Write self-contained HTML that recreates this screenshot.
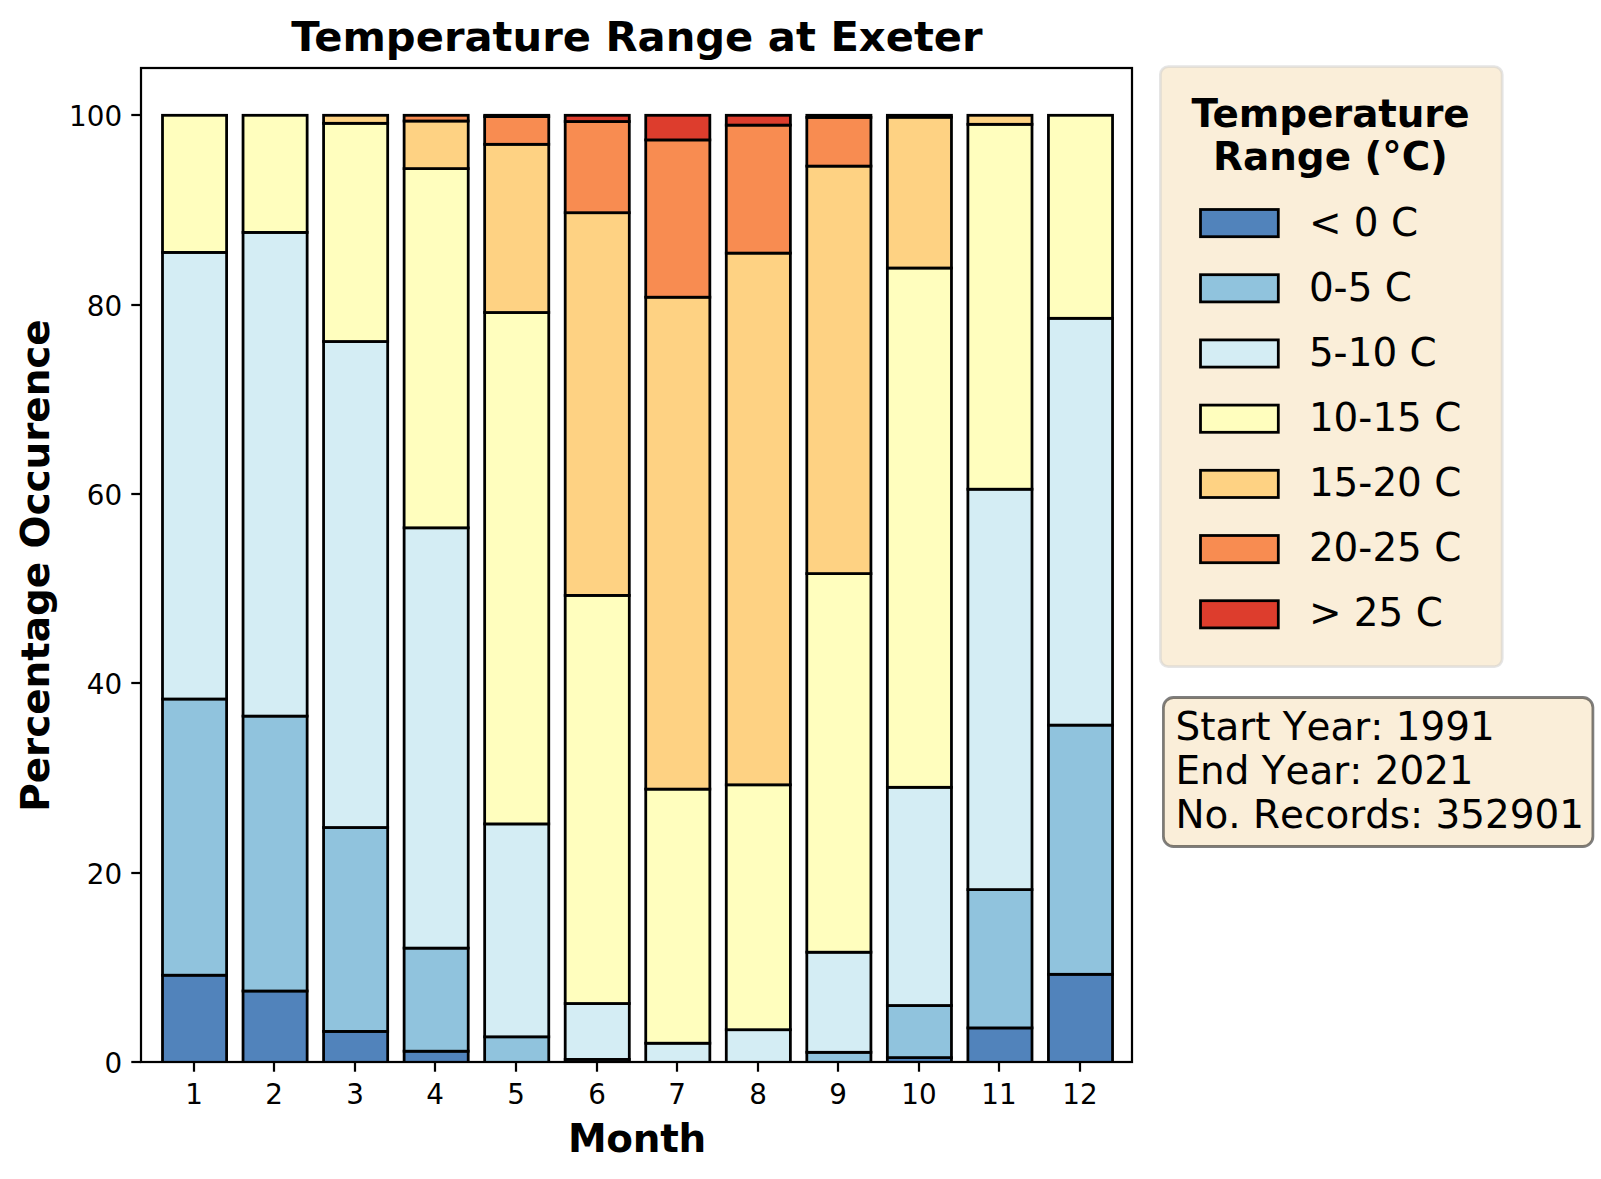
<!DOCTYPE html>
<html lang="en"><head><meta charset="utf-8"><title>Temperature Range at Exeter</title>
<style>html,body{margin:0;padding:0;background:#fff}svg{display:block}text{font-family:"DejaVu Sans","Liberation Sans",sans-serif;fill:#000}.b{font-weight:bold}</style></head><body>
<svg width="1601" height="1179" viewBox="0 0 1601 1179">
<rect width="1601" height="1179" fill="#fff"/>
<defs><clipPath id="axclip"><rect x="141.0" y="68.0" width="991.0" height="994.0"/></clipPath></defs>
<g clip-path="url(#axclip)" stroke="#000" stroke-width="2.78" stroke-linejoin="miter">
<rect x="162.50" y="975.20" width="64.10" height="87.20" fill="#5183bb"/>
<rect x="162.50" y="699.00" width="64.10" height="276.20" fill="#90c3dd"/>
<rect x="162.50" y="252.40" width="64.10" height="446.60" fill="#d4edf4"/>
<rect x="162.50" y="115.30" width="64.10" height="137.10" fill="#fffebe"/>
<rect x="243.04" y="991.00" width="64.10" height="71.40" fill="#5183bb"/>
<rect x="243.04" y="716.10" width="64.10" height="274.90" fill="#90c3dd"/>
<rect x="243.04" y="232.40" width="64.10" height="483.70" fill="#d4edf4"/>
<rect x="243.04" y="115.30" width="64.10" height="117.10" fill="#fffebe"/>
<rect x="323.58" y="1031.40" width="64.10" height="31.00" fill="#5183bb"/>
<rect x="323.58" y="827.50" width="64.10" height="203.90" fill="#90c3dd"/>
<rect x="323.58" y="341.50" width="64.10" height="486.00" fill="#d4edf4"/>
<rect x="323.58" y="123.30" width="64.10" height="218.20" fill="#fffebe"/>
<rect x="323.58" y="115.30" width="64.10" height="8.00" fill="#fed283"/>
<rect x="404.12" y="1051.20" width="64.10" height="11.20" fill="#5183bb"/>
<rect x="404.12" y="948.10" width="64.10" height="103.10" fill="#90c3dd"/>
<rect x="404.12" y="527.80" width="64.10" height="420.30" fill="#d4edf4"/>
<rect x="404.12" y="168.60" width="64.10" height="359.20" fill="#fffebe"/>
<rect x="404.12" y="121.00" width="64.10" height="47.60" fill="#fed283"/>
<rect x="404.12" y="115.30" width="64.10" height="5.70" fill="#f88c51"/>
<rect x="484.66" y="1036.80" width="64.10" height="25.60" fill="#90c3dd"/>
<rect x="484.66" y="823.90" width="64.10" height="212.90" fill="#d4edf4"/>
<rect x="484.66" y="312.50" width="64.10" height="511.40" fill="#fffebe"/>
<rect x="484.66" y="144.30" width="64.10" height="168.20" fill="#fed283"/>
<rect x="484.66" y="116.60" width="64.10" height="27.70" fill="#f88c51"/>
<rect x="484.66" y="115.30" width="64.10" height="1.30" fill="#dd3d2d"/>
<rect x="565.20" y="1059.40" width="64.10" height="3.00" fill="#90c3dd"/>
<rect x="565.20" y="1003.50" width="64.10" height="55.90" fill="#d4edf4"/>
<rect x="565.20" y="595.40" width="64.10" height="408.10" fill="#fffebe"/>
<rect x="565.20" y="212.70" width="64.10" height="382.70" fill="#fed283"/>
<rect x="565.20" y="121.50" width="64.10" height="91.20" fill="#f88c51"/>
<rect x="565.20" y="115.30" width="64.10" height="6.20" fill="#dd3d2d"/>
<rect x="645.74" y="1043.20" width="64.10" height="19.20" fill="#d4edf4"/>
<rect x="645.74" y="789.10" width="64.10" height="254.10" fill="#fffebe"/>
<rect x="645.74" y="297.20" width="64.10" height="491.90" fill="#fed283"/>
<rect x="645.74" y="139.90" width="64.10" height="157.30" fill="#f88c51"/>
<rect x="645.74" y="115.30" width="64.10" height="24.60" fill="#dd3d2d"/>
<rect x="726.28" y="1029.70" width="64.10" height="32.70" fill="#d4edf4"/>
<rect x="726.28" y="784.80" width="64.10" height="244.90" fill="#fffebe"/>
<rect x="726.28" y="253.10" width="64.10" height="531.70" fill="#fed283"/>
<rect x="726.28" y="125.10" width="64.10" height="128.00" fill="#f88c51"/>
<rect x="726.28" y="115.30" width="64.10" height="9.80" fill="#dd3d2d"/>
<rect x="806.82" y="1052.30" width="64.10" height="10.10" fill="#90c3dd"/>
<rect x="806.82" y="952.20" width="64.10" height="100.10" fill="#d4edf4"/>
<rect x="806.82" y="573.60" width="64.10" height="378.60" fill="#fffebe"/>
<rect x="806.82" y="166.10" width="64.10" height="407.50" fill="#fed283"/>
<rect x="806.82" y="117.40" width="64.10" height="48.70" fill="#f88c51"/>
<rect x="806.82" y="115.30" width="64.10" height="2.10" fill="#dd3d2d"/>
<rect x="887.36" y="1057.60" width="64.10" height="4.80" fill="#5183bb"/>
<rect x="887.36" y="1005.50" width="64.10" height="52.10" fill="#90c3dd"/>
<rect x="887.36" y="787.30" width="64.10" height="218.20" fill="#d4edf4"/>
<rect x="887.36" y="268.00" width="64.10" height="519.30" fill="#fffebe"/>
<rect x="887.36" y="117.20" width="64.10" height="150.80" fill="#fed283"/>
<rect x="887.36" y="115.30" width="64.10" height="1.90" fill="#f88c51"/>
<rect x="967.90" y="1027.90" width="64.10" height="34.50" fill="#5183bb"/>
<rect x="967.90" y="889.60" width="64.10" height="138.30" fill="#90c3dd"/>
<rect x="967.90" y="489.20" width="64.10" height="400.40" fill="#d4edf4"/>
<rect x="967.90" y="124.30" width="64.10" height="364.90" fill="#fffebe"/>
<rect x="967.90" y="115.30" width="64.10" height="9.00" fill="#fed283"/>
<rect x="1048.44" y="974.30" width="64.10" height="88.10" fill="#5183bb"/>
<rect x="1048.44" y="725.10" width="64.10" height="249.20" fill="#90c3dd"/>
<rect x="1048.44" y="318.30" width="64.10" height="406.80" fill="#d4edf4"/>
<rect x="1048.44" y="115.30" width="64.10" height="203.00" fill="#fffebe"/>
</g>
<rect x="141.0" y="68.0" width="991.0" height="994.0" fill="none" stroke="#000" stroke-width="2.22" stroke-linejoin="miter"/>
<g stroke="#000" stroke-width="2.22">
<line x1="194" y1="1062.0" x2="194" y2="1071.72"/>
<line x1="274" y1="1062.0" x2="274" y2="1071.72"/>
<line x1="355" y1="1062.0" x2="355" y2="1071.72"/>
<line x1="435" y1="1062.0" x2="435" y2="1071.72"/>
<line x1="516" y1="1062.0" x2="516" y2="1071.72"/>
<line x1="597" y1="1062.0" x2="597" y2="1071.72"/>
<line x1="677" y1="1062.0" x2="677" y2="1071.72"/>
<line x1="758" y1="1062.0" x2="758" y2="1071.72"/>
<line x1="838" y1="1062.0" x2="838" y2="1071.72"/>
<line x1="919" y1="1062.0" x2="919" y2="1071.72"/>
<line x1="999" y1="1062.0" x2="999" y2="1071.72"/>
<line x1="1080" y1="1062.0" x2="1080" y2="1071.72"/>
<line x1="141.0" y1="1062" x2="131.28" y2="1062"/>
<line x1="141.0" y1="873" x2="131.28" y2="873"/>
<line x1="141.0" y1="683" x2="131.28" y2="683"/>
<line x1="141.0" y1="494" x2="131.28" y2="494"/>
<line x1="141.0" y1="305" x2="131.28" y2="305"/>
<line x1="141.0" y1="115" x2="131.28" y2="115"/>
</g>
<g font-size="27.78" text-anchor="middle">
<text x="194" y="1104">1</text>
<text x="274" y="1104">2</text>
<text x="355" y="1104">3</text>
<text x="435" y="1104">4</text>
<text x="516" y="1104">5</text>
<text x="597" y="1104">6</text>
<text x="677" y="1104">7</text>
<text x="758" y="1104">8</text>
<text x="838" y="1104">9</text>
<text x="919" y="1104">10</text>
<text x="999" y="1104">11</text>
<text x="1080" y="1104">12</text>
</g>
<g font-size="27.78" text-anchor="end">
<text x="122.1" y="1073.3">0</text>
<text x="122.1" y="884.3">20</text>
<text x="122.1" y="694.3">40</text>
<text x="122.1" y="505.3">60</text>
<text x="122.1" y="316.3">80</text>
<text x="122.1" y="126.3">100</text>
</g>
<text class="b" font-size="41.67" text-anchor="middle" x="637" y="50.8">Temperature Range at Exeter</text>
<text class="b" font-size="38.89" text-anchor="middle" x="637.1" y="1152" textLength="138.4" lengthAdjust="spacing">Month</text>
<text class="b" font-size="38.89" text-anchor="middle" transform="translate(48.6 565.5) rotate(-90)" textLength="492.5" lengthAdjust="spacing">Percentage Occurence</text>
<rect x="1160.4" y="66.7" width="341.8" height="599.9" rx="7.8" ry="7.8" fill="rgba(245,222,179,0.5)" stroke="rgba(204,204,204,0.5)" stroke-width="2.78"/>
<text class="b" font-size="38.89" text-anchor="middle" x="1330.5" y="127.4" textLength="278.2" lengthAdjust="spacing">Temperature</text>
<text class="b" font-size="38.89" text-anchor="middle" x="1330.5" y="170.45" textLength="234.8" lengthAdjust="spacing">Range (°C)</text>
<rect x="1200.5" y="209.50" width="77.8" height="27.2" fill="#5183bb" stroke="#000" stroke-width="2.78"/>
<text font-size="38.89" x="1308.9" y="235.70">&lt; 0 C</text>
<rect x="1200.5" y="274.70" width="77.8" height="27.2" fill="#90c3dd" stroke="#000" stroke-width="2.78"/>
<text font-size="38.89" x="1308.9" y="300.75">0-5 C</text>
<rect x="1200.5" y="339.90" width="77.8" height="27.2" fill="#d4edf4" stroke="#000" stroke-width="2.78"/>
<text font-size="38.89" x="1308.9" y="365.80">5-10 C</text>
<rect x="1200.5" y="405.10" width="77.8" height="27.2" fill="#fffebe" stroke="#000" stroke-width="2.78"/>
<text font-size="38.89" x="1308.9" y="430.85">10-15 C</text>
<rect x="1200.5" y="470.30" width="77.8" height="27.2" fill="#fed283" stroke="#000" stroke-width="2.78"/>
<text font-size="38.89" x="1308.9" y="495.90">15-20 C</text>
<rect x="1200.5" y="535.50" width="77.8" height="27.2" fill="#f88c51" stroke="#000" stroke-width="2.78"/>
<text font-size="38.89" x="1308.9" y="560.95">20-25 C</text>
<rect x="1200.5" y="600.70" width="77.8" height="27.2" fill="#dd3d2d" stroke="#000" stroke-width="2.78"/>
<text font-size="38.89" x="1308.9" y="626.00">&gt; 25 C</text>
<rect x="1163.4" y="697.5" width="429.5" height="149" rx="10" ry="10" fill="rgba(245,222,179,0.5)" stroke="rgba(0,0,0,0.5)" stroke-width="2.78"/>
<text font-size="38.89" style="font-kerning:none" x="1175.5" y="740.00">Start Year: 1991</text>
<text font-size="38.89" style="font-kerning:none" x="1175.5" y="784.05">End Year: 2021</text>
<text font-size="38.89" style="font-kerning:none" x="1175.5" y="828.10">No. Records: 352901</text>
</svg></body></html>
